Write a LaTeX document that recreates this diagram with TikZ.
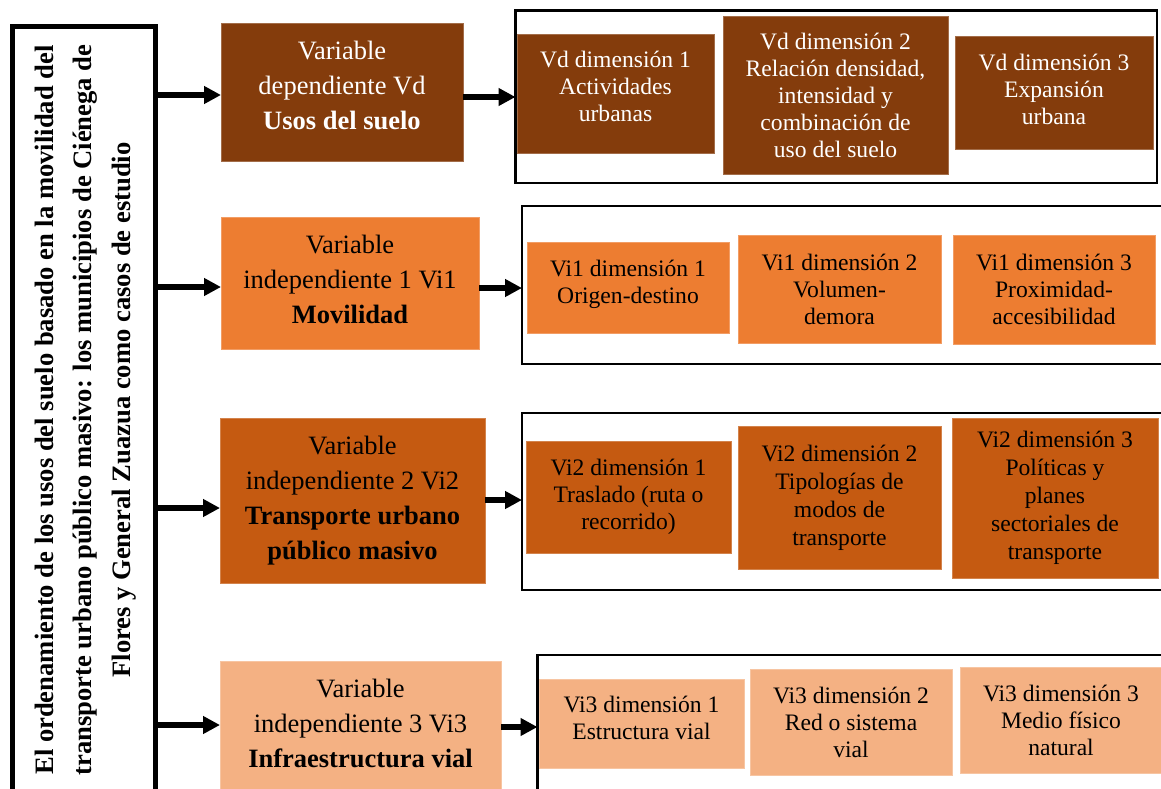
\documentclass[tikz,border=0pt]{standalone}
\usepackage{fontspec}
\setmainfont{Liberation Serif}
\usetikzlibrary{arrows.meta}

\definecolor{vdcol}{HTML}{843C0C}
\definecolor{vionecol}{HTML}{ED7D31}
\definecolor{vitwocol}{HTML}{C55A11}
\definecolor{vithreecol}{HTML}{F4B183}

% invisible depth under the last line, to lift a text block in its box
\newcommand\padbelow[1]{\rule[-#1]{0pt}{0pt}}

\tikzset{
  box/.style={inner sep=0pt, outer sep=0pt, align=center, line width=0.8pt},
  varbox/.style={box, font=\fontsize{26.5}{35}\selectfont},
  dimbox/.style={box, font=\fontsize{23.6}{27}\selectfont},
  widedimbox/.style={box, font=\fontsize{23.6}{28}\selectfont},
  vdfill/.style={fill=vdcol, draw=vdcol!75!white, text=white},
  vionefill/.style={fill=vionecol, draw=vionecol!75!white, text=black},
  vitwofill/.style={fill=vitwocol, draw=vitwocol!75!white, text=black},
  vithreefill/.style={fill=vithreecol, draw=vithreecol!75!white, text=black},
  frame/.style={draw=black, line width=2.5pt, inner sep=0pt, outer sep=0pt},
  arr/.style={line width=5.5pt, -{Triangle[length=17pt,width=17pt]}},
}

\begin{document}
\begin{tikzpicture}[x=1pt, y=-1pt]
\useasboundingbox (0,0) rectangle (1161,789);
\clip (0,0) rectangle (1161,789);
\fill[white] (0,0) rectangle (1161,789);

% title box on the left, text turned upwards
\node[draw=black, line width=5pt, inner sep=0pt, outer sep=0pt,
      minimum width=143pt, minimum height=767pt, align=center,
      font=\bfseries\fontsize{26.6}{39}\selectfont]
  (mainbox) at (84,410)
  {\rotatebox{90}{\begin{tabular}{@{}c@{}}
   El ordenamiento de los usos del suelo basado en la movilidad del\\[-0.5pt]
   transporte urbano público masivo: los municipios de Ciénega de\\[-0.5pt]
   Flores y General Zuazua como casos de estudio
   \end{tabular}}};

% group frames holding the dimensions
\node[frame, minimum width=641.5pt, minimum height=172.5pt] (frameA) at (836.25,96.75) {};
\node[frame, minimum width=653pt, minimum height=158pt] (frameB) at (848.5,285) {};
\node[frame, minimum width=653pt, minimum height=177pt] (frameC) at (848.5,501.5) {};
\node[frame, minimum width=637.5pt, minimum height=155pt] (frameD) at (856.25,732.5) {};

% variables
\node[varbox, vdfill, minimum width=242pt, minimum height=138pt] (vA) at (342,92)
  {Variable\\dependiente Vd\\\textbf{Usos del suelo}\padbelow{14pt}};
\node[varbox, vionefill, minimum width=258pt, minimum height=132pt] (vB) at (350,283)
  {Variable\\independiente 1 Vi1\\\textbf{Movilidad}\padbelow{8pt}};
\node[varbox, vitwofill, minimum width=265pt, minimum height=165pt] (vC) at (352.5,500.5)
  {Variable\\independiente 2 Vi2\\\textbf{Transporte urbano}\\\textbf{público masivo}};
\node[varbox, vithreefill, minimum width=281pt, minimum height=131pt] (vD) at (360.5,726.5)
  {Variable\\independiente 3 Vi3\\\textbf{Infraestructura vial}\padbelow{6pt}};

% dimensions of Vd
\node[dimbox, vdfill, minimum width=197pt, minimum height=119pt] (dA1) at (615.5,93.5)
  {Vd dimensión 1\\Actividades\\urbanas\padbelow{14pt}};
\node[dimbox, vdfill, minimum width=225pt, minimum height=158pt] (dA2) at (835.5,95.5)
  {Vd dimensión 2\\Relación densidad,\\intensidad y\\combinación de\\uso del suelo};
\node[dimbox, vdfill, minimum width=198pt, minimum height=113pt] (dA3) at (1054,92.5)
  {Vd dimensión 3\\Expansión\\urbana\padbelow{6pt}};

% dimensions of Vi1
\node[dimbox, vionefill, minimum width=202pt, minimum height=91pt] (dB1) at (628,287.5)
  {Vi1 dimensión 1\\Origen-destino\padbelow{11pt}};
\node[dimbox, vionefill, minimum width=203pt, minimum height=108pt] (dB2) at (839.5,289)
  {Vi1 dimensión 2\\Volumen-\\demora};
\node[dimbox, vionefill, minimum width=202pt, minimum height=109pt] (dB3) at (1054,289.5)
  {Vi1 dimensión 3\\Proximidad-\\accesibilidad};

% dimensions of Vi2
\node[dimbox, vitwofill, minimum width=205pt, minimum height=112pt] (dC1) at (628.5,497)
  {Vi2 dimensión 1\\Traslado (ruta o\\recorrido)};
\node[widedimbox, vitwofill, minimum width=203pt, minimum height=143pt] (dC2) at (839.5,497.5)
  {Vi2 dimensión 2\\Tipologías de\\modos de\\transporte\padbelow{4pt}};
\node[widedimbox, vitwofill, minimum width=206pt, minimum height=160pt] (dC3) at (1055,498)
  {Vi2 dimensión 3\\Políticas y\\planes\\sectoriales de\\transporte};

% dimensions of Vi3
\node[dimbox, vithreefill, minimum width=205pt, minimum height=89pt] (dD1) at (641.5,723.5)
  {Vi3 dimensión 1\\Estructura vial\padbelow{12pt}};
\node[dimbox, vithreefill, minimum width=202pt, minimum height=106pt] (dD2) at (851,722)
  {Vi3 dimensión 2\\Red o sistema\\vial};
\node[dimbox, vithreefill, minimum width=202pt, minimum height=106pt] (dD3) at (1061,720)
  {Vi3 dimensión 3\\Medio físico\\natural};

% arrows from the title to each variable
\draw[arr] (mainbox.east |- 0,95)  -- (vA.west |- 0,95);
\draw[arr] (mainbox.east |- 0,287) -- (vB.west |- 0,287);
\draw[arr] (mainbox.east |- 0,508) -- (vC.west |- 0,508);
\draw[arr] (mainbox.east |- 0,725) -- (vD.west |- 0,725);

% arrows from each variable to its dimensions
\draw[arr] (vA.east |- 0,97)  -- (frameA.west |- 0,97);
\draw[arr] (vB.east |- 0,288) -- (frameB.west |- 0,288);
\draw[arr] (vC.east |- 0,500) -- (frameC.west |- 0,500);
\draw[arr] (vD.east |- 0,727) -- (frameD.west |- 0,727);
\end{tikzpicture}
\end{document}
